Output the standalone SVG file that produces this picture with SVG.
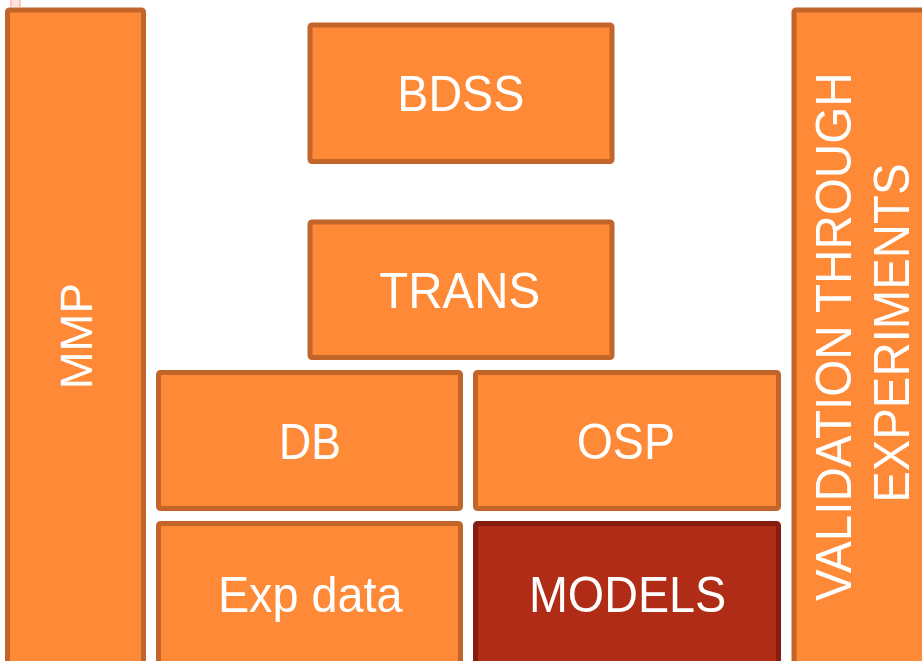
<svg xmlns="http://www.w3.org/2000/svg" width="922" height="661" viewBox="0 0 922 661">
  <style>
    .box { fill: #FE8937; stroke: #C1652B; stroke-width: 5; }
    .dark { fill: #B12C17; stroke: #851E10; stroke-width: 5; }
    .lbl { font-family: "Liberation Sans", Arial, sans-serif; font-size: 50px; fill: #FFFFFF; text-anchor: middle; }
  </style>
  <rect width="922" height="661" fill="#FFFFFF"/>
  <rect x="10" y="0" width="11" height="7" fill="#FFE3DD"/>
  <rect x="10" y="0" width="2" height="7" fill="#FFC8BE"/>
  <rect x="19" y="0" width="2" height="7" fill="#FFC8BE"/>
  <g id="connectors"></g>
  <g id="mmp">
    <rect class="box" x="7.5" y="10" width="136" height="660" rx="2"/>
    <text class="lbl" style="font-size:44px" transform="translate(91.7,336.3) rotate(-90)" textLength="106" lengthAdjust="spacingAndGlyphs">MMP</text>
  </g>
  <g id="bdss">
    <rect class="box" x="310" y="25" width="302" height="136.5" rx="2"/>
    <text class="lbl" x="460.8" y="111" textLength="127" lengthAdjust="spacingAndGlyphs">BDSS</text>
  </g>
  <g id="trans">
    <rect class="box" x="310" y="222" width="302" height="135.5" rx="2"/>
    <text class="lbl" x="459.7" y="308.3" textLength="160.7" lengthAdjust="spacingAndGlyphs">TRANS</text>
  </g>
  <g id="db">
    <rect class="box" x="158.5" y="372.5" width="302" height="136" rx="2"/>
    <text class="lbl" x="310" y="459.3" textLength="62" lengthAdjust="spacingAndGlyphs">DB</text>
  </g>
  <g id="osp">
    <rect class="box" x="475.5" y="372.5" width="303" height="136" rx="2"/>
    <text class="lbl" x="625.8" y="459.3" textLength="98.3" lengthAdjust="spacingAndGlyphs">OSP</text>
  </g>
  <g id="expdata">
    <rect class="box" x="158.5" y="523.5" width="302" height="140" rx="2"/>
    <text class="lbl" x="310.2" y="611.7" textLength="184.6" lengthAdjust="spacingAndGlyphs">Exp data</text>
  </g>
  <g id="models">
    <rect class="dark" x="475.5" y="523.5" width="303" height="140" rx="2"/>
    <text class="lbl" x="627.6" y="611.7" textLength="197.3" lengthAdjust="spacingAndGlyphs">MODELS</text>
  </g>
  <g id="validation">
    <rect class="box" x="794" y="10" width="140" height="660" rx="2"/>
    <text class="lbl" transform="translate(851,336.8) rotate(-90)" textLength="528.6" lengthAdjust="spacingAndGlyphs">VALIDATION THROUGH</text>
    <text class="lbl" transform="translate(909,333.2) rotate(-90)" textLength="339.3" lengthAdjust="spacingAndGlyphs">EXPERIMENTS</text>
  </g>
</svg>
